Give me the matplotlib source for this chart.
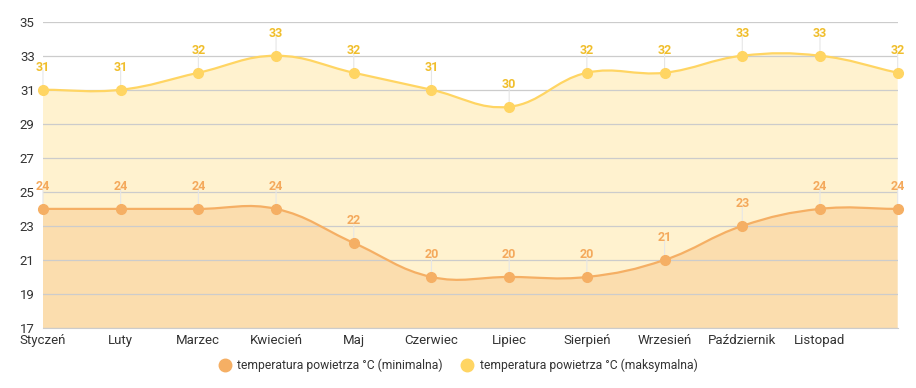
import matplotlib.pyplot as plt
from matplotlib.path import Path
from matplotlib.patches import PathPatch
from matplotlib.lines import Line2D
import numpy as np

plt.rcParams['font.family'] = ['Roboto', 'DejaVu Sans']

months = ['Styczeń', 'Luty', 'Marzec', 'Kwiecień', 'Maj', 'Czerwiec', 'Lipiec',
          'Sierpień', 'Wrzesień', 'Październik', 'Listopad', 'Grudzień']
t_max = [31, 31, 32, 33, 32, 31, 30, 32, 32, 33, 33, 32]
t_min = [24, 24, 24, 24, 22, 20, 20, 20, 21, 23, 24, 24]
yticks = [17, 19, 21, 23, 25, 27, 29, 31, 33, 35]

c_max = '#FFD563'
c_min = '#F5AF64'
lab_max = '#F0BE2C'
lab_min = '#F4A95C'


def spline_path(ax, xs, ys, base=None, tension=0.4):
    # cubic bezier spline (chart.js style), control points worked out in pixels
    pts = ax.transData.transform(np.column_stack([xs, ys]))
    inv = ax.transData.inverted()
    n = len(pts)
    conts = []
    for i in range(n):
        cur = pts[i]
        prev = pts[i - 1] if i > 0 else cur
        nxt = pts[i + 1] if i < n - 1 else cur
        d01 = np.hypot(*(cur - prev))
        d12 = np.hypot(*(nxt - cur))
        tot = d01 + d12
        s01 = d01 / tot if tot else 0
        s12 = d12 / tot if tot else 0
        fa = tension * s01
        fb = tension * s12
        conts.append((cur - fa * (nxt - prev), cur + fb * (nxt - prev)))
    verts = [pts[0]]
    codes = [Path.MOVETO]
    for i in range(1, n):
        verts += [conts[i - 1][1], conts[i][0], pts[i]]
        codes += [Path.CURVE4] * 3
    verts = [tuple(v) for v in inv.transform(np.array(verts))]
    if base is not None:
        verts += [(xs[-1], base), (xs[0], base), (xs[0], ys[0])]
        codes += [Path.LINETO, Path.LINETO, Path.CLOSEPOLY]
    return Path(verts, codes)


fig = plt.figure(figsize=(9.16, 3.88), dpi=100)
ax = fig.add_axes([0.0469, 0.1546, 0.9331, 0.7895])
x = np.arange(len(months))

ax.set_xlim(0, len(months) - 1)
ax.set_ylim(17, 35)
ax.set_yticks(yticks)
ax.set_xticks(x[:-1])
ax.set_xticklabels(months[:-1])
ax.tick_params(length=0, labelsize=9.5, labelcolor='#333333', pad=6)
ax.tick_params(axis='x', pad=4)
ax.grid(axis='y', color='#cccccc', linewidth=0.9, zorder=0)
for s in ['top', 'right', 'left']:
    ax.spines[s].set_visible(False)
ax.spines['bottom'].set_color('#cccccc')

for data, col in [(t_max, c_max), (t_min, c_min)]:
    ax.add_patch(PathPatch(spline_path(ax, x, data, base=17), facecolor=col, alpha=0.3,
                           edgecolor='none', zorder=1))
for data, col, lc in [(t_max, c_max, lab_max), (t_min, c_min, lab_min)]:
    ax.add_patch(PathPatch(spline_path(ax, x, data), facecolor='none', edgecolor=col,
                           linewidth=1.6, zorder=3))
    ax.plot(x, data, 'o', color=col, markersize=7, zorder=4, clip_on=False)
    for xi, v in zip(x, data):
        ax.annotate('', xy=(xi, v), xytext=(0, 14), textcoords='offset points',
                    arrowprops=dict(arrowstyle='-', color='#e6e6e6', lw=0.8,
                                    shrinkA=0, shrinkB=0), zorder=2)
        ax.annotate(str(v), xy=(xi, v), xytext=(0, 16), textcoords='offset points',
                    ha='center', va='center', fontsize=9, fontweight='bold',
                    color=lc, zorder=5, annotation_clip=False)

handles = [Line2D([], [], marker='o', ls='none', color=c_min, markersize=9),
           Line2D([], [], marker='o', ls='none', color=c_max, markersize=9)]
fig.legend(handles, ['temperatura powietrza °C (minimalna)',
                     'temperatura powietrza °C (maksymalna)'],
           loc='center', bbox_to_anchor=(0.497, 0.058), ncol=2, frameon=False,
           fontsize=8.7, handletextpad=0.05, columnspacing=1.0, labelcolor='#333333')

fig.savefig('out.png', dpi=100)
